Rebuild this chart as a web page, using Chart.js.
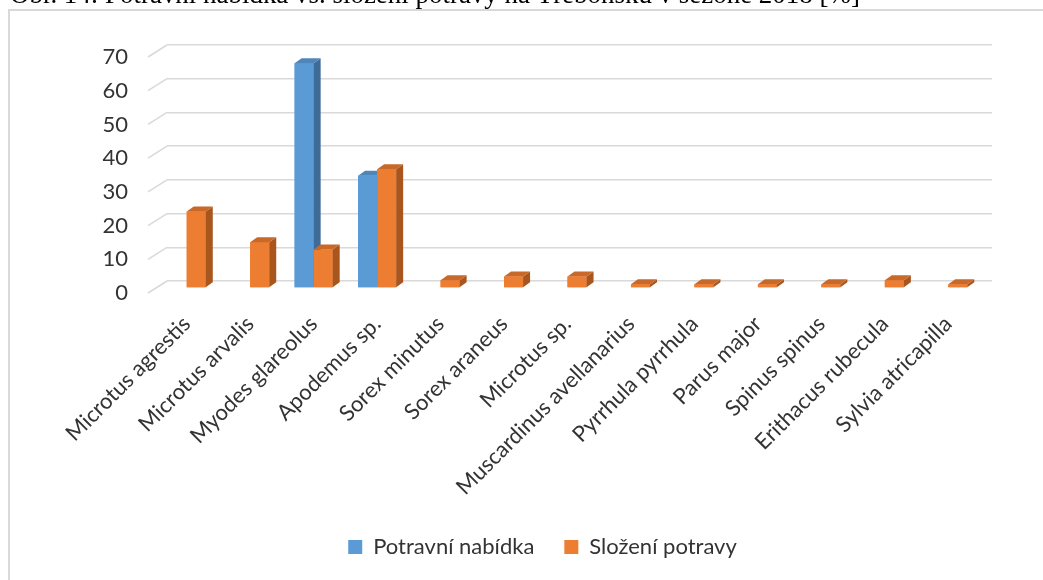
<!DOCTYPE html>
<html>
<head>
<meta charset="utf-8">
<script src="https://cdn.jsdelivr.net/npm/chart.js@4.4.1/dist/chart.umd.min.js"></script>
<style>
  html, body { margin: 0; padding: 0; background: #ffffff; overflow: hidden; }
  #wrap { position: absolute; left: 0; top: 0; width: 1043px; height: 580px; }
</style>
</head>
<body>
<div id="wrap"><canvas id="c" width="1043" height="580"></canvas></div>
<script>
const titleText = 'Obr. 14: Potravní nabídka vs. složení potravy na Třeboňsku v sezóně 2018 [%]';
const categories = [
  'Microtus agrestis', 'Microtus arvalis', 'Myodes glareolus', 'Apodemus sp.',
  'Sorex minutus', 'Sorex araneus', 'Microtus sp.', 'Muscardinus avellanarius',
  'Pyrrhula pyrrhula', 'Parus major', 'Spinus spinus', 'Erithacus rubecula',
  'Sylvia atricapilla'
];
const seriesNames = ['Potravní nabídka', 'Složení potravy'];
const offerValues = [null, null, 66.7, 33.3, null, null, null, null, null, null, null, null, null];
const dietValues = [22.7, 13.6, 11.4, 35.2, 2.3, 3.4, 3.4, 1.1, 1.1, 1.1, 1.1, 2.3, 1.1];
const yMin = 0, yMax = 70, yStep = 10;

const FONT = 'Lato';
const TEXT = '#333333';
const GRID = '#D9D9D9';
const FACE = {
  0: { front: '#5B9BD5', side: '#3E6C98', top: '#4F86BA' },
  1: { front: '#ED7D31', side: '#A9561E', top: '#C8692A' }
};
const DEPTH_X = 7, DEPTH_Y = -5;       // bar depth
const SHIFT_X = -12, SHIFT_Y = 7;      // bars sit in front of the back wall
const LAYOUT_BOTTOM = 12;
const PLOT_TOP = 45;
const PLOT_BOTTOM = 281;

const framePlugin = {
  id: 'frame',
  beforeDraw(chart) {
    const ctx = chart.ctx;
    ctx.save();
    ctx.strokeStyle = GRID;
    ctx.lineWidth = 2;
    ctx.beginPath();
    ctx.moveTo(9, 600);
    ctx.lineTo(9, 10);
    ctx.lineTo(1100, 10);
    ctx.stroke();
    // caption above the chart frame (cut by the top edge)
    ctx.fillStyle = '#000000';
    ctx.font = '100px "Liberation Serif"';
    const w = ctx.measureText(titleText).width;
    const size = 100 * 850 / w;
    ctx.font = size + 'px "Liberation Serif"';
    ctx.textBaseline = 'alphabetic';
    ctx.textAlign = 'left';
    ctx.fillText(titleText, 10, 3);
    ctx.restore();
  }
};

const bars3dPlugin = {
  id: 'bars3d',
  beforeDatasetsDraw(chart) {
    const ctx = chart.ctx;
    const area = chart.chartArea;
    const ys = chart.scales.y;
    // perspective stubs of the gridlines on the left side wall
    ctx.save();
    ctx.strokeStyle = GRID;
    ctx.lineWidth = 1.5;
    ys.ticks.forEach(t => {
      const y = ys.getPixelForValue(t.value);
      ctx.beginPath();
      ctx.moveTo(area.left - 19, y + 12);
      ctx.lineTo(area.left, y);
      ctx.stroke();
    });
    ctx.restore();
    ctx.save();
    ctx.translate(SHIFT_X, SHIFT_Y);
  },
  afterDatasetsDraw(chart) {
    const ctx = chart.ctx;
    const n = chart.data.labels.length;
    for (let i = 0; i < n; i++) {
      for (let d = 0; d < chart.data.datasets.length; d++) {
        const v = chart.data.datasets[d].data[i];
        if (v === null || v === undefined) continue;
        const el = chart.getDatasetMeta(d).data[i];
        const p = el.getProps(['x', 'y', 'base', 'width'], true);
        const l = p.x - p.width / 2, r = p.x + p.width / 2;
        const t = Math.min(p.y, p.base), b = Math.max(p.y, p.base);
        const c = FACE[d];
        ctx.fillStyle = c.front;
        ctx.fillRect(l, t, r - l, b - t);
        ctx.fillStyle = c.side;
        ctx.beginPath();
        ctx.moveTo(r, t); ctx.lineTo(r + DEPTH_X, t + DEPTH_Y);
        ctx.lineTo(r + DEPTH_X, b + DEPTH_Y); ctx.lineTo(r, b);
        ctx.closePath(); ctx.fill();
        ctx.fillStyle = c.top;
        ctx.beginPath();
        ctx.moveTo(l, t); ctx.lineTo(l + DEPTH_X, t + DEPTH_Y);
        ctx.lineTo(r + DEPTH_X, t + DEPTH_Y); ctx.lineTo(r, t);
        ctx.closePath(); ctx.fill();
      }
    }
    ctx.restore();
  }
};

new Chart(document.getElementById('c'), {
  type: 'bar',
  data: {
    labels: categories,
    datasets: [
      { label: seriesNames[0], data: offerValues, backgroundColor: FACE[0].front, borderWidth: 0 },
      { label: seriesNames[1], data: dietValues, backgroundColor: FACE[1].front, borderWidth: 0 }
    ]
  },
  options: {
    responsive: false,
    animation: false,
    devicePixelRatio: 1,
    categoryPercentage: 0.6,
    barPercentage: 1.0,
    layout: { padding: { left: 93, right: 51, top: PLOT_TOP, bottom: LAYOUT_BOTTOM } },
    plugins: {
      legend: {
        position: 'bottom',
        labels: {
          font: { family: FONT, size: 22 },
          color: TEXT,
          boxWidth: 14,
          boxHeight: 14,
          padding: 30
        }
      },
      tooltip: { enabled: false },
      title: { display: false }
    },
    scales: {
      x: {
        offset: true,
        grid: { display: false },
        border: { display: false },
        ticks: {
          autoSkip: false,
          maxRotation: 45,
          minRotation: 45,
          labelOffset: -12,
          padding: 22,
          font: { family: FONT, size: 22 },
          color: TEXT
        },
        afterFit(scale) {
          const chart = scale.chart;
          const lh = chart.legend ? chart.legend.height : 0;
          scale.height = chart.height - LAYOUT_BOTTOM - lh - PLOT_BOTTOM;
        }
      },
      y: {
        min: yMin,
        max: yMax,
        ticks: {
          stepSize: yStep,
          padding: 39,
          labelOffset: 12,
          font: { family: FONT, size: 22 },
          color: TEXT
        },
        grid: { color: GRID, lineWidth: 1.5, drawTicks: false },
        border: { display: false },
        afterFit(scale) { scale.width = 74; scale.paddingTop = 0; scale.paddingBottom = 0; }
      }
    }
  },
  plugins: [framePlugin, bars3dPlugin]
});
</script>
</body>
</html>
